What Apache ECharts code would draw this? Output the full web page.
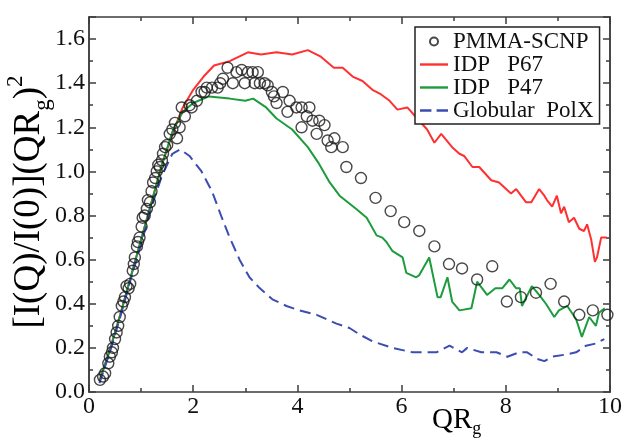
<!DOCTYPE html>
<html>
<head>
<meta charset="utf-8">
<script src="https://cdn.jsdelivr.net/npm/echarts@6/dist/echarts.min.js"></script>
<style>
  html, body { margin: 0; padding: 0; background: #ffffff; }
  #chart { width: 625px; height: 440px; }
</style>
</head>
<body>
<div id="chart"></div>
<script>
// Scattering data: QR_g on x, Kratky-style [I(Q)/I(0)](QR_g)^2 on y.

// PMMA-SCNP (measured, open circles)
const pmmaQ = [0.21, 0.27, 0.31, 0.37, 0.40, 0.44, 0.46, 0.50, 0.53, 0.56, 0.59, 0.63, 0.66, 0.69, 0.72, 0.76,
  0.79, 0.84, 0.86, 0.88, 0.92, 0.94, 0.97, 1.01, 1.03, 1.07, 1.11, 1.13, 1.17, 1.20, 1.23, 1.27,
  1.30, 1.33, 1.36, 1.40, 1.42, 1.46, 1.50, 1.55, 1.60, 1.65, 1.69, 1.74, 1.78, 1.84, 1.93, 1.97,
  2.07, 2.16, 2.22, 2.26, 2.36, 2.47, 2.52, 2.57, 2.66, 2.76, 2.83, 2.93, 2.99, 3.05, 3.14, 3.18,
  3.24, 3.28, 3.37, 3.43, 3.51, 3.55, 3.60, 3.72, 3.81, 3.85, 3.98, 4.08, 4.08, 4.18, 4.23, 4.29,
  4.37, 4.42, 4.52, 4.58, 4.65, 4.71, 4.87, 4.94, 5.22, 5.50, 5.79, 6.05, 6.34, 6.63, 6.91, 7.16,
  7.45, 7.74, 8.02, 8.29, 8.58, 8.86, 9.12, 9.41, 9.67, 9.95];
const pmmaI = [0.055, 0.07, 0.085, 0.13, 0.16, 0.18, 0.20, 0.24, 0.27, 0.30, 0.34, 0.39, 0.41, 0.43, 0.48, 0.47,
  0.49, 0.55, 0.58, 0.61, 0.66, 0.68, 0.70, 0.75, 0.79, 0.80, 0.83, 0.87, 0.86, 0.91, 0.95, 0.97,
  1.00, 1.03, 1.02, 1.05, 1.08, 1.11, 1.12, 1.17, 1.19, 1.22, 1.15, 1.20, 1.29, 1.25, 1.30, 1.29,
  1.32, 1.36, 1.36, 1.38, 1.38, 1.38, 1.40, 1.42, 1.47, 1.40, 1.45, 1.46, 1.40, 1.45, 1.45, 1.40,
  1.45, 1.40, 1.40, 1.39, 1.36, 1.34, 1.31, 1.36, 1.27, 1.32, 1.29, 1.29, 1.20, 1.25, 1.29, 1.23,
  1.17, 1.23, 1.21, 1.14, 1.11, 1.15, 1.11, 1.02, 0.97, 0.88, 0.82, 0.77, 0.73, 0.66, 0.58, 0.56,
  0.51, 0.57, 0.41, 0.43, 0.45, 0.49, 0.41, 0.35, 0.37, 0.35];

// IDP P67 (red)
const p67Q = [0.2, 0.4, 0.6, 0.8, 1.0, 1.2, 1.4, 1.6, 1.8, 2.0, 2.2, 2.4, 2.7, 3.05, 3.3, 3.6, 3.9, 4.2,
  4.45, 4.7, 4.87, 5.06, 5.25, 5.44, 5.6, 5.77, 5.92, 6.11, 6.30, 6.49, 6.63, 6.76, 6.97, 7.11, 7.2,
  7.36, 7.49, 7.72, 7.87, 8.10, 8.20, 8.39, 8.49, 8.64, 8.74, 8.79, 8.89, 8.98, 9.06, 9.12, 9.21,
  9.31, 9.41, 9.50, 9.56, 9.64, 9.71, 9.75, 9.83, 9.94];
const p67I = [0.05, 0.19, 0.35, 0.52, 0.69, 0.86, 1.03, 1.17, 1.29, 1.37, 1.43, 1.48, 1.50, 1.54, 1.53, 1.54, 1.53, 1.55,
  1.52, 1.47, 1.47, 1.43, 1.41, 1.37, 1.35, 1.32, 1.28, 1.29, 1.24, 1.19, 1.13, 1.17, 1.11, 1.08, 1.07,
  1.02, 1.02, 0.96, 0.95, 0.90, 0.92, 0.86, 0.86, 0.92, 0.89, 0.87, 0.84, 0.89, 0.81, 0.84, 0.77,
  0.79, 0.74, 0.73, 0.76, 0.69, 0.59, 0.61, 0.70, 0.70];

// IDP P47 (green)
const p47Q = [0.2, 0.4, 0.6, 0.8, 1.0, 1.2, 1.4, 1.6, 1.8, 2.0, 2.3, 2.7, 3.0, 3.15, 3.4, 3.6, 3.9, 4.2,
  4.4, 4.62, 4.81, 5.13, 5.33, 5.52, 5.63, 5.71, 5.82, 6.02, 6.09, 6.28, 6.34, 6.53, 6.69, 6.75, 6.88,
  6.97, 7.11, 7.34, 7.45, 7.64, 7.80, 7.93, 8.07, 8.20, 8.27, 8.31, 8.50, 8.64, 8.77, 8.93, 9.02,
  9.18, 9.35, 9.46, 9.60, 9.73, 9.79, 9.90];
const p47I = [0.05, 0.19, 0.35, 0.52, 0.69, 0.86, 1.03, 1.18, 1.27, 1.31, 1.34, 1.33, 1.32, 1.33, 1.29, 1.24, 1.19, 1.11,
  1.04, 0.95, 0.89, 0.83, 0.79, 0.71, 0.70, 0.68, 0.64, 0.61, 0.54, 0.52, 0.53, 0.61, 0.43, 0.43, 0.52,
  0.41, 0.37, 0.38, 0.50, 0.44, 0.47, 0.47, 0.51, 0.47, 0.47, 0.39, 0.48, 0.44, 0.40, 0.34, 0.37,
  0.39, 0.33, 0.25, 0.34, 0.30, 0.36, 0.38];

// Globular PolX (blue dashed)
const polxQ = [0.2, 0.4, 0.6, 0.8, 1.0, 1.2, 1.4, 1.6, 1.75, 1.93, 2.16, 2.36, 2.55, 2.70, 2.89, 3.08, 3.28,
  3.52, 3.79, 4.04, 4.37, 4.75, 5.0, 5.2, 5.44, 5.82, 6.21, 6.67, 6.92, 7.16, 7.26, 7.53, 7.82, 8.03,
  8.26, 8.41, 8.60, 8.74, 8.89, 9.16, 9.35, 9.54, 9.73, 9.89];
const polxI = [0.04, 0.18, 0.34, 0.51, 0.67, 0.84, 0.98, 1.08, 1.10, 1.07, 1.00, 0.91, 0.79, 0.70, 0.60, 0.52, 0.47,
  0.42, 0.39, 0.37, 0.35, 0.31, 0.29, 0.26, 0.23, 0.20, 0.18, 0.18, 0.21, 0.18, 0.20, 0.18, 0.18, 0.16,
  0.18, 0.18, 0.15, 0.14, 0.16, 0.17, 0.18, 0.21, 0.22, 0.24];

const seriesNames = ['PMMA-SCNP', 'IDP   P67', 'IDP   P47', 'Globular  PolX'];

const X_MIN = 0, X_MAX = 10, X_STEP = 2;
const Y_MIN = 0, Y_MAX = 1.7, Y_STEP = 0.2, Y_MINOR = 0.1;

const zip = (xs, ys) => xs.map((x, i) => [x, ys[i]]);

const FONT = 'Liberation Serif';
const AXIS_COLOR = '#3c3c3c';
const lineStyle = { color: AXIS_COLOR, width: 1.5 };
const COLORS = { p67: '#ff3030', p47: '#1c9c3c', polx: '#3b4db3', pmma: '#1a1a1a' };

function yFrame(position, step, tickLen, withLabels) {
  return {
    type: 'value', position, min: Y_MIN, max: Y_MAX, interval: step,
    axisLine: { show: true, onZero: false, lineStyle },
    axisTick: { show: true, inside: true, length: tickLen, lineStyle },
    axisLabel: {
      show: withLabels, margin: 4, color: '#111', fontFamily: FONT, fontSize: 24,
      formatter: v => (Math.abs(v - Y_MAX) < 1e-9 ? '' : v.toFixed(1))
    },
    splitLine: { show: false }
  };
}

function xFrame(position, withLabels) {
  return {
    type: 'value', position, min: X_MIN, max: X_MAX, interval: X_STEP,
    axisLine: { show: true, onZero: false, lineStyle },
    axisTick: { show: true, inside: true, length: 7, lineStyle },
    minorTick: { show: true, splitNumber: 2, length: 4, lineStyle },
    axisLabel: { show: withLabels, margin: 3, color: '#111', fontFamily: FONT, fontSize: 24 },
    splitLine: { show: false }
  };
}

// rich text styles for axis titles (main text, subscript, superscript)
function titleRich(size, small, line) {
  return {
    m: { fontFamily: FONT, fontSize: size, lineHeight: line, color: '#111' },
    s: { fontFamily: FONT, fontSize: small, lineHeight: small, verticalAlign: 'bottom', color: '#111' },
    p: { fontFamily: FONT, fontSize: small, lineHeight: small, verticalAlign: 'top', color: '#111' }
  };
}

// legend glyphs: solid bar for lines, two dashes for the dashed series
const SOLID_ICON = 'path://M0,0H28V2.4H0Z';
const DASH_ICON = 'path://M0,0H11V2.4H0Z M16,0H27V2.4H16Z';

const chart = echarts.init(document.getElementById('chart'), null, { renderer: 'canvas' });

chart.setOption({
  animation: false,
  backgroundColor: '#ffffff',
  grid: { left: 89, right: 14, top: 17, bottom: 48, containLabel: false },
  xAxis: [xFrame('bottom', true), xFrame('top', false)],
  yAxis: [
    yFrame('left', Y_STEP, 7, true),
    yFrame('left', Y_MINOR, 4, false),
    yFrame('right', Y_STEP, 7, false),
    yFrame('right', Y_MINOR, 4, false)
  ],
  legend: {
    orient: 'vertical', left: 415, top: 27,
    padding: [3, 6, 2, 5], itemGap: 0, itemWidth: 28, itemHeight: 8,
    borderColor: '#222', borderWidth: 1.5, borderRadius: 0, backgroundColor: '#ffffff',
    textStyle: { fontFamily: FONT, fontSize: 23, color: '#111', lineHeight: 20.5 },
    data: [
      { name: seriesNames[0] },
      { name: seriesNames[1], icon: SOLID_ICON },
      { name: seriesNames[2], icon: SOLID_ICON },
      { name: seriesNames[3], icon: DASH_ICON }
    ]
  },
  graphic: [
    {
      type: 'text', x: 29, y: 202, rotation: Math.PI / 2, silent: true,
      style: {
        text: '{m|[I(Q)/I(0)](QR}{s|g}{m|)}{p|2}',
        rich: titleRich(37, 23, 50), align: 'center', verticalAlign: 'middle'
      }
    },
    {
      type: 'text', x: 432, y: 402, silent: true,
      style: { text: '{m|QR}{s|g}', rich: titleRich(29, 18, 36), align: 'left', verticalAlign: 'top' }
    }
  ],
  series: [
    {
      name: seriesNames[1], type: 'line', data: zip(p67Q, p67I), showSymbol: false, symbol: 'none',
      lineStyle: { color: COLORS.p67, width: 2 }, itemStyle: { color: COLORS.p67 }, z: 2
    },
    {
      name: seriesNames[2], type: 'line', data: zip(p47Q, p47I), showSymbol: false, symbol: 'none',
      lineStyle: { color: COLORS.p47, width: 2 }, itemStyle: { color: COLORS.p47 }, z: 2
    },
    {
      name: seriesNames[3], type: 'line', data: zip(polxQ, polxI), showSymbol: false, symbol: 'none',
      lineStyle: { color: COLORS.polx, width: 2, type: [11, 6] }, itemStyle: { color: COLORS.polx }, z: 2
    },
    {
      name: seriesNames[0], type: 'scatter', data: zip(pmmaQ, pmmaI), symbol: 'circle', symbolSize: 11,
      itemStyle: { color: 'rgba(0,0,0,0)', borderColor: COLORS.pmma, borderWidth: 1.4 }, z: 3
    }
  ]
});
</script>
</body>
</html>
